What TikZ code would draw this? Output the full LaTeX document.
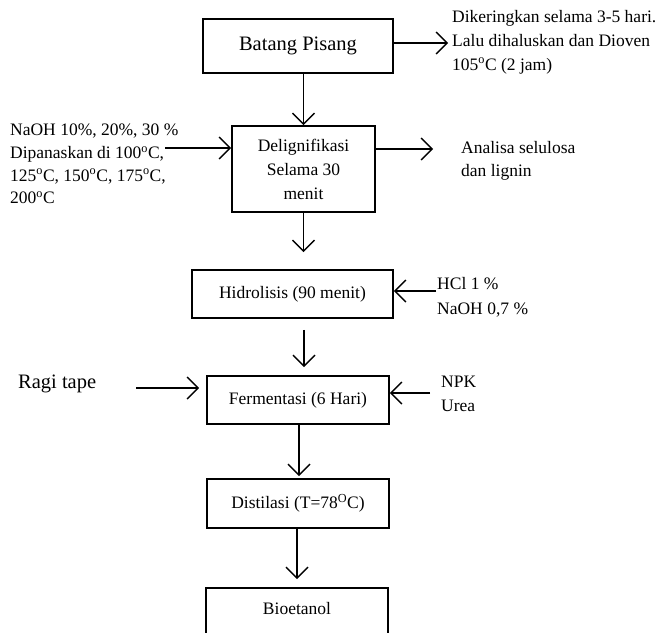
\documentclass[tikz,border=0pt]{standalone}
\usepackage{fontspec}
\setmainfont{Liberation Serif}
\usetikzlibrary{arrows.meta}
\begin{document}
\begin{tikzpicture}[x=1pt,y=-1pt,
  font=\fontsize{17.5}{24}\selectfont,
  box/.style={draw, line width=1.6pt, inner sep=0pt, align=center},
  arr/.style={line width=1.4pt, -{Straight Barb[length=11pt,width=22pt]}},
  lbl/.style={inner sep=0pt, align=left},
  big/.style={font=\fontsize{20.5}{24}\selectfont}]
\useasboundingbox (0,0) rectangle (663,632);

% process boxes
\node[box, big, minimum width=190pt, minimum height=54pt] (bp) at (298,46) {Batang Pisang};
\node[box, minimum width=143pt, minimum height=86pt] (dl) at (303.5,169) {Delignifikasi\\Selama 30\\menit};
\node[box, minimum width=201pt, minimum height=48pt] (hd) at (292.5,294) {Hidrolisis (90 menit)};
\node[box, minimum width=182pt, minimum height=48pt] (fm) at (298,400) {Fermentasi (6 Hari)};
\node[box, minimum width=182pt, minimum height=49pt] (ds) at (298,503.5) {Distilasi (T=78\textsuperscript{O}C)};
\node[box, minimum width=182pt, minimum height=62pt, text height=12pt, text depth=20pt, anchor=north] (bio) at (297,587) {Bioetanol};

% side texts
\node[lbl, anchor=west] (t1) at (452,42) {Dikeringkan selama 3-5 hari.\\Lalu dihaluskan dan Dioven\\105\textsuperscript{o}C (2 jam)};
\node[lbl, anchor=west, font=\fontsize{17.5}{22.7}\selectfont] (t2) at (10,164) {NaOH 10\%, 20\%, 30 \%\\Dipanaskan di 100\textsuperscript{o}C,\\125\textsuperscript{o}C, 150\textsuperscript{o}C, 175\textsuperscript{o}C,\\200\textsuperscript{o}C};
\node[lbl, anchor=west, font=\fontsize{17.5}{22.5}\selectfont] (t3) at (461,161) {Analisa selulosa\\dan lignin};
\node[lbl, anchor=west, font=\fontsize{17.5}{25}\selectfont] (t4) at (437,297) {HCl 1 \%\\NaOH 0,7 \%};
\node[lbl, anchor=west, big] (t5) at (18,384) {Ragi tape};
\node[lbl, anchor=west] (t6) at (441,394) {NPK\\Urea};

% connector ends
\coordinate (a1e) at (448,43);
\coordinate (a2s) at (165,148);
\coordinate (a3e) at (433,149);
\coordinate (a4s) at (436,291);
\coordinate (a5s) at (136,388);
\coordinate (a6s) at (430,393);

% connectors
\draw[arr] (bp.east |- a1e) -- (a1e);
\draw[arr] (dl.north |- bp.south) -- (dl.north);
\draw[arr] (a2s) -- (a2s -| dl.west);
\draw[arr] (a3e -| dl.east) -- (a3e);
\draw[arr, shorten >=17pt] (dl.south) -- (dl.south |- hd.north);
\draw[arr] (a4s) -- (a4s -| hd.east);
\draw[arr, shorten <=11pt, shorten >=8pt] ([xshift=11.5pt]hd.south) -- ([xshift=11.5pt]hd.south |- fm.north);
\draw[arr, shorten >=7pt] (a5s) -- (a5s -| fm.west);
\draw[arr] (a6s) -- (a6s -| fm.east);
\draw[arr, shorten >=2pt] ([xshift=1pt]fm.south) -- ([xshift=1pt]fm.south |- ds.north);
\draw[arr, shorten >=8pt] ([xshift=-1pt]ds.south) -- ([xshift=-1pt]ds.south |- bio.north);
\end{tikzpicture}
\end{document}
